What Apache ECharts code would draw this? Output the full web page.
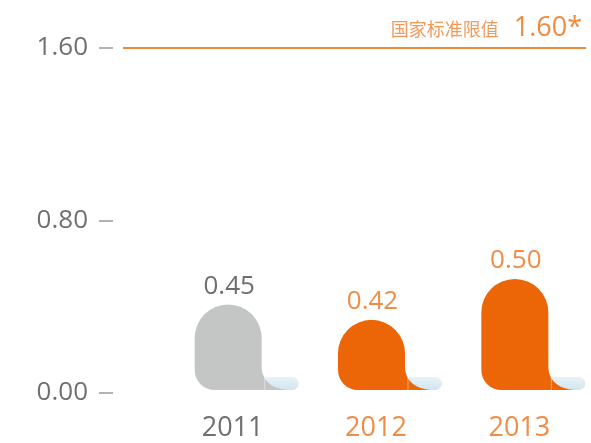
<!DOCTYPE html>
<html>
<head>
<meta charset="utf-8">
<script src="https://cdn.jsdelivr.net/npm/echarts@6/dist/echarts.min.js"></script>
<style>
    html, body { margin: 0; padding: 0; background: #fff; }
    #chart { width: 591px; height: 443px; }
</style>
</head>
<body>
<div id="chart"></div>
<script>
// data
const years = ['2011', '2012', '2013'];
const values = [0.45, 0.42, 0.50];
const limitValue = 1.60;
const limitText = '国家标准限值';
const yMin = 0, yMax = 1.6, yStep = 0.8;

// styles
const barColors = ['#c4c5c5', '#ec6608', '#ec6608'];
const textColors = ['#6f6f6f', '#f08c46', '#f08c46'];
const orange = '#f08a3c';
const FONT = '"Open Sans", "Noto Sans CJK SC", sans-serif';

const chart = echarts.init(document.getElementById('chart'));

// blob shape with a curled foot, top comes from the value through the axis
function renderShape(params, api) {
    const i = api.value(0);
    const v = api.value(1);
    const p = api.coord([i, v]);
    const cs = params.coordSys;
    const b = cs.y + cs.height;
    const W = 67, r1 = 20, R = W / 2;
    const x0 = p[0] - 38;
    const xR = x0 + W;
    const t = p[1];
    const idx = params.dataIndex;

    const d = 'M' + x0 + ' ' + (b - r1) +
        ' L' + x0 + ' ' + (t + R) +
        ' A' + R + ' ' + R + ' 0 0 1 ' + xR + ' ' + (t + R) +
        ' L' + xR + ' ' + (b - 24) +
        ' C' + xR + ' ' + (b - 8) + ' ' + (xR + 12) + ' ' + b + ' ' + (xR + 30) + ' ' + b +
        ' L' + (x0 + r1) + ' ' + b +
        ' A' + r1 + ' ' + r1 + ' 0 0 1 ' + x0 + ' ' + (b - r1) + ' Z';

    return {
        type: 'group',
        children: [
            {
                type: 'rect',
                shape: { x: xR + 3, y: b - 13, width: 34, height: 13, r: [0, 6.5, 6.5, 0] },
                style: {
                    fill: new echarts.graphic.LinearGradient(0, 0, 0, 1, [
                        { offset: 0, color: '#e8f2f7' },
                        { offset: 1, color: '#d2e5ee' }
                    ])
                }
            },
            {
                type: 'path',
                shape: { pathData: d },
                style: { fill: barColors[idx] }
            },
            {
                type: 'line',
                shape: { x1: xR + 3, y1: b - 13, x2: xR + 3, y2: b },
                style: { stroke: 'rgba(255,255,255,0.45)', lineWidth: 1 }
            },
            {
                type: 'text',
                style: {
                    text: v.toFixed(2),
                    x: x0 + W / 2 + 1,
                    y: t - 18,
                    align: 'center',
                    verticalAlign: 'middle',
                    textAlign: 'center',
                    textVerticalAlign: 'middle',
                    fill: textColors[idx],
                    fontSize: 26,
                    fontFamily: FONT
                }
            }
        ]
    };
}

const option = {
    backgroundColor: '#fff',
    animation: false,
    grid: [
        { left: 161, right: -2, top: 48, bottom: 53 },   // shapes
        { left: 123, right: 5, top: 48, bottom: 50 },    // limit line
        { left: 113, right: 5, top: 48, bottom: 50 }     // visible scale
    ],
    xAxis: [
        {
            type: 'category',
            gridIndex: 0,
            data: years,
            axisLine: { show: false },
            axisTick: { show: false },
            axisLabel: {
                margin: 25,
                fontSize: 27,
                fontFamily: FONT,
                color: (val, index) => textColors[index]
            }
        },
        { type: 'value', gridIndex: 1, min: 0, max: 1, show: false },
        { type: 'value', gridIndex: 2, min: 0, max: 1, show: false }
    ],
    yAxis: [
        { type: 'value', gridIndex: 1, min: yMin, max: yMax, show: false },
        // hidden scale for the decorative shapes
        { type: 'value', gridIndex: 0, min: 0.283, max: 0.951, show: false },
        {
            type: 'value',
            gridIndex: 2,
            min: yMin,
            max: yMax,
            interval: yStep,
            axisLine: { show: false },
            axisTick: { show: true, length: 14, lineStyle: { color: '#b3b3b3', width: 2 } },
            splitLine: { show: false },
            axisLabel: {
                margin: 25,
                fontSize: 26,
                fontFamily: FONT,
                color: '#707070',
                formatter: v => v.toFixed(2)
            }
        }
    ],
    series: [
        {
            type: 'custom',
            xAxisIndex: 0,
            yAxisIndex: 1,
            clip: false,
            renderItem: renderShape,
            encode: { x: 0, y: 1 },
            data: values.map((v, i) => [i, v])
        },
        {
            type: 'line',
            xAxisIndex: 1,
            yAxisIndex: 0,
            symbol: 'none',
            lineStyle: { opacity: 0 },
            data: [[0, limitValue], [1, limitValue]],
            markLine: {
                silent: true,
                symbol: 'none',
                data: [{ yAxis: limitValue }],
                lineStyle: { color: orange, width: 2, type: 'solid' },
                label: {
                    position: 'insideEndTop',
                    distance: [4, 6],
                    formatter: '{a|' + limitText + '}{b|' + limitValue.toFixed(2) + '*}',
                    rich: {
                        a: { fontSize: 18, color: '#f39a5a', fontFamily: FONT, lineHeight: 30, verticalAlign: 'bottom', padding: [0, 15, 2, 0] },
                        b: { fontSize: 27, color: orange, fontFamily: FONT, lineHeight: 30, verticalAlign: 'bottom' }
                    }
                }
            }
        }
    ]
};

chart.setOption(option);
</script>
</body>
</html>
